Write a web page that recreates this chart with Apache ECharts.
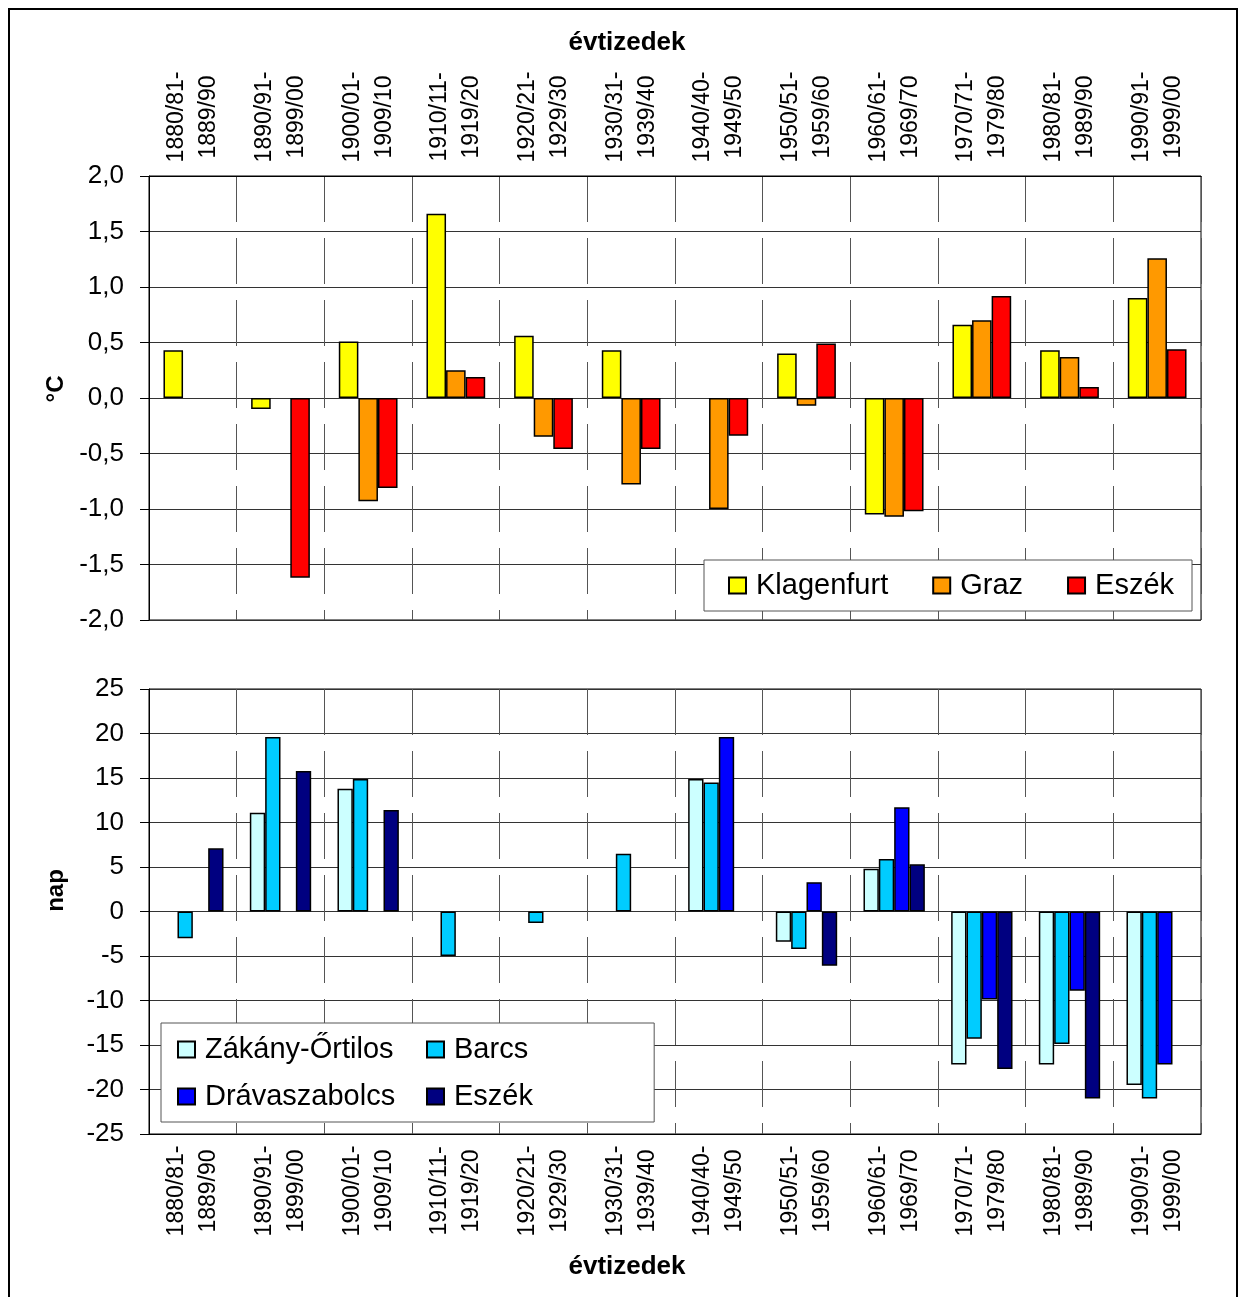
<!DOCTYPE html>
<html><head><meta charset="utf-8">
<script src="https://cdn.jsdelivr.net/npm/echarts@6/dist/echarts.min.js"></script>
<style>
html,body{margin:0;padding:0;background:#fff;width:1245px;height:1297px;overflow:hidden}
#chart{position:absolute;left:0;top:0;width:1245px;height:1297px}
#frame{position:absolute;left:8px;top:8px;width:1230px;height:1400px;border:2px solid #000;box-sizing:border-box;pointer-events:none}
</style></head><body>
<div id="chart"></div><div id="frame"></div>
<script>
// ---- data ----
const categories = ['1880/81-\n1889/90','1890/91-\n1899/00','1900/01-\n1909/10','1910/11-\n1919/20','1920/21-\n1929/30','1930/31-\n1939/40','1940/40-\n1949/50','1950/51-\n1959/60','1960/61-\n1969/70','1970/71-\n1979/80','1980/81-\n1989/90','1990/91-\n1999/00'];
// temperature anomalies (°C)
const klagenfurt = [0.43, -0.10, 0.51, 1.66, 0.56, 0.43, null, 0.40, -1.05, 0.66, 0.43, 0.90];
const graz       = [null, null, -0.93, 0.25, -0.35, -0.78, -1.00, -0.07, -1.07, 0.70, 0.37, 1.26];
const eszekTemp  = [null, -1.62, -0.81, 0.19, -0.46, -0.46, -0.34, 0.49, -1.02, 0.92, 0.10, 0.44];
// days (nap)
const zakany = [null, 11.1, 13.8, null, null, null, 14.9, -3.4, 4.8, -17.2, -17.2, -19.5];
const barcs  = [-3.0, 19.6, 14.9, -5.0, -1.3, 6.5, 14.5, -4.2, 5.9, -14.3, -14.9, -21.0];
const drava  = [null, null, null, null, null, null, 19.6, 3.3, 11.7, -9.9, -8.9, -17.2];
const eszekDays = [7.1, 15.8, 11.4, null, null, null, null, -6.1, 5.3, -17.7, -21.0, null];

const FONT = '"Liberation Sans", Arial, sans-serif';
const chart = echarts.init(document.getElementById('chart'), null, {renderer:'canvas'});

function bar(name, data, color, idx, gap) {
  return {type:'bar', name, data, xAxisIndex:idx, yAxisIndex:idx,
    barGap:'0%', barCategoryGap:gap,
    itemStyle:{color, borderColor:'#000', borderWidth:1.5},
    emphasis:{disabled:true}};
}
function xAxis(idx, pos, margin, rot) {
  return {type:'category', gridIndex:idx, position:pos, data:categories,
    axisLine:{show:true, onZero:false, lineStyle:{color:'#000', width:1}},
    axisTick:{show:false},
    axisLabel:{show:true, interval:0, rotate:rot, align:'center', margin, fontSize:23, lineHeight:32, color:'#000', fontFamily:FONT},
    splitLine:{show:true, interval:0, lineStyle:{color:'#555', width:1, type:[46,16]}},
    name:'évtizedek', nameLocation:'middle', nameGap:120,
    nameTextStyle:{fontSize:26, fontWeight:'bold', color:'#000', fontFamily:FONT, padding:[0,96,0,0]}};
}
function yAxis(idx, min, max, step, fmt, name, pad) {
  return {type:'value', gridIndex:idx, min, max, interval:step,
    axisLine:{show:true, lineStyle:{color:'#000', width:1}},
    axisTick:{show:true, length:9, inside:false, lineStyle:{color:'#000'}},
    axisLabel:{formatter:fmt, fontSize:26, margin:25, color:'#000', fontFamily:FONT},
    splitLine:{show:true, lineStyle:{color:'#333', width:1}},
    name, nameLocation:'middle', nameGap:81, nameRotate:90,
    nameTextStyle:{fontSize:24, fontWeight:'bold', color:'#000', fontFamily:FONT, padding:pad}};
}
const legendBase = {
  selectedMode:false, itemWidth:17, itemHeight:16, icon:'rect',
  formatter: n => n.split('|')[0],
  textStyle:{fontSize:29, color:'#000', fontFamily:FONT, padding:[0,0,0,5]}
};

chart.setOption({
  animation:false,
  backgroundColor:'#fff',
  grid:[
    {left:149, top:176, width:1052, height:444, show:true, borderColor:'#000', borderWidth:1, backgroundColor:'transparent'},
    {left:149, top:689, width:1052, height:445, show:true, borderColor:'#000', borderWidth:1, backgroundColor:'transparent'}
  ],
  xAxis:[ xAxis(0,'top',59,-90), xAxis(1,'bottom',57,90) ],
  yAxis:[
    yAxis(0,-2,2,0.5, v => v.toFixed(1).replace('.', ','), '°C', [0,0,0,18]),
    yAxis(1,-25,25,5, v => String(v), 'nap', [0,0,0,42])
  ],
  legend:[
    Object.assign({}, legendBase, {data:['Klagenfurt','Graz','Eszék|1'], orient:'horizontal',
      left:704, top:560, padding:[11,18,11,24], itemGap:44,
      backgroundColor:'#fff', borderColor:'#555', borderWidth:1, z:5}),
    Object.assign({}, legendBase, {data:['Zákány-Őrtilos','Drávaszabolcs'], orient:'vertical',
      left:161, top:1023, padding:[12,259,11,16], itemGap:18,
      backgroundColor:'#fff', borderColor:'#555', borderWidth:1, z:5}),
    Object.assign({}, legendBase, {data:['Barcs','Eszék|2'], orient:'vertical',
      left:426, top:1023, padding:[12,0,11,0], itemGap:18, z:6})
  ],
  series:[
    bar('Klagenfurt', klagenfurt, '#FFFF00', 0, '33%'),
    bar('Graz', graz, '#FF9900', 0, '33%'),
    bar('Eszék|1', eszekTemp, '#FF0000', 0, '33%'),
    bar('Zákány-Őrtilos', zakany, '#CCFFFF', 1, '30%'),
    bar('Barcs', barcs, '#00CCFF', 1, '30%'),
    bar('Drávaszabolcs', drava, '#0000FF', 1, '30%'),
    bar('Eszék|2', eszekDays, '#000080', 1, '30%')
  ]
});
</script>
</body></html>
